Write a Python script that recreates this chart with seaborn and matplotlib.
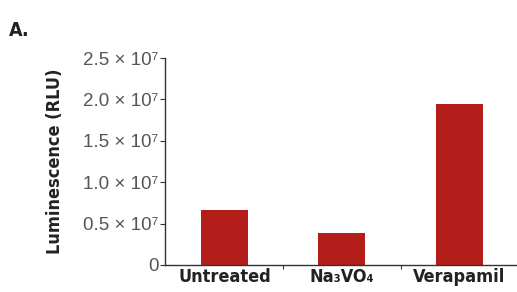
import matplotlib
matplotlib.use("Agg")
import matplotlib.pyplot as plt
import matplotlib.ticker as mticker
import seaborn as sns

# chart data
treatments = ["Untreated", "Na₃VO₄", "Verapamil"]
luminescence = [0.67e7, 0.39e7, 1.95e7]
y_ticks = [0, 0.5e7, 1.0e7, 1.5e7, 2.0e7, 2.5e7]
y_tick_labels = ["0", "0.5 × 10⁷", "1.0 × 10⁷", "1.5 × 10⁷", "2.0 × 10⁷", "2.5 × 10⁷"]

sns.set_style("white")
bold_fam = "DejaVu Sans"
light_fam = ["Liberation Sans", "DejaVu Sans"]

fig = plt.figure(figsize=(5.17, 2.92), dpi=100)
ax = fig.add_axes([0.319, 0.0925, 0.681, 0.7085])

sns.barplot(x=treatments, y=luminescence, color="#B21D19", width=0.4,
            saturation=1, ax=ax, edgecolor="none")

ax.set_xlim(-0.506, 2.49)
ax.set_ylim(0, 2.5e7)
ax.set_yticks(y_ticks)
ax.set_yticklabels(y_tick_labels, family=light_fam, fontsize=13.5, color="#555555")
ax.set_xticks([0, 1, 2])
ax.set_xticklabels(treatments, family=bold_fam, fontweight="bold",
                   fontstretch="condensed", fontsize=13, color="#222222")
ax.xaxis.set_minor_locator(mticker.FixedLocator([0.5, 1.5]))
ax.tick_params(axis="x", which="major", length=0, pad=2)
ax.tick_params(axis="x", which="minor", length=3, width=0.8, color="#333333", bottom=True)
ax.tick_params(axis="y", length=3.5, width=0.8, color="#333333", left=True, pad=1)

for side in ["top", "right"]:
    ax.spines[side].set_visible(False)
for side in ["left", "bottom"]:
    ax.spines[side].set_color("#333333")
    ax.spines[side].set_linewidth(1.0)

ax.set_ylabel("Luminescence (RLU)", family=bold_fam, fontweight="bold",
              fontstretch="condensed", fontsize=13, color="#222222", labelpad=14)
fig.text(0.018, 0.875, "A.", family=bold_fam, fontweight="bold",
         fontstretch="condensed", fontsize=14, color="#222222")

fig.savefig("out.png", dpi=100)
